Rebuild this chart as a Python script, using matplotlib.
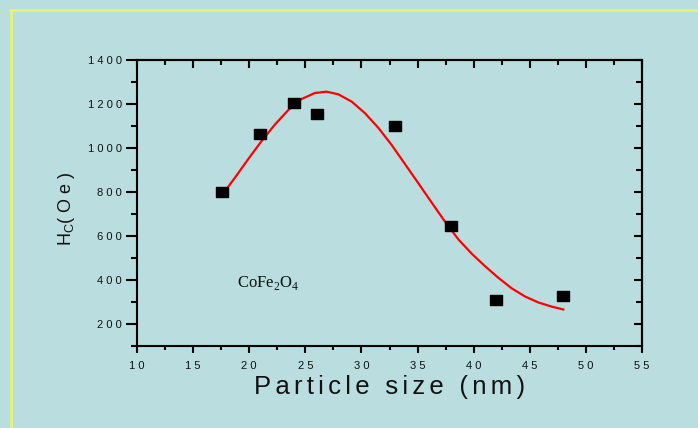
import matplotlib
matplotlib.use("Agg")
import matplotlib.pyplot as plt
from matplotlib.path import Path
from matplotlib.lines import Line2D
from matplotlib.ticker import MultipleLocator, FixedLocator

# Data
size_nm = [17.6, 21.0, 24.0, 26.0, 33.0, 38.0, 42.0, 48.0]
hc_oe = [800, 1065, 1205, 1155, 1100, 645, 308, 327]

fit_x = [17.69, 18.73, 19.92, 21.11, 22.30, 23.49, 24.68, 25.86, 26.90, 27.94,
         29.13, 30.32, 31.50, 32.69, 33.88, 35.07, 36.26, 37.45, 38.63, 39.82,
         41.01, 42.20, 43.39, 44.58, 45.76, 46.95, 47.99]
fit_y = [794, 865, 950, 1032, 1107, 1173, 1223, 1250, 1256, 1244,
         1211, 1158, 1092, 1014, 927, 840, 752, 665, 585, 520,
         463, 410, 362, 325, 298, 279, 266]

x_ticks = [10, 15, 20, 25, 30, 35, 40, 45, 50, 55]
y_ticks = [200, 400, 600, 800, 1000, 1200, 1400]

SANS = ["Liberation Sans", "DejaVu Sans"]

def spaced(s, gap=" "):
    return gap.join(list(s))

bg = "#BADDDF"
fig = plt.figure(figsize=(6.98, 4.28), dpi=100, facecolor=bg)
ax = fig.add_axes([137/698, 1-346/428, (642-137)/698, (346-60)/428])
ax.set_facecolor(bg)

# yellow border (top and left)
fig.add_artist(Line2D([11/698, 1.0], [1-10/428, 1-10/428], color="#EEF55A", lw=2))
fig.add_artist(Line2D([11/698, 11/698], [0, 1-10/428], color="#EEF55A", lw=2))

ax.plot(fit_x, fit_y, color="red", lw=1.6, zorder=2, solid_joinstyle="round")
rect = Path([(-1, -0.75), (1, -0.75), (1, 0.75), (-1, 0.75), (-1, -0.75)],
            [Path.MOVETO, Path.LINETO, Path.LINETO, Path.LINETO, Path.CLOSEPOLY])
ax.plot(size_nm, hc_oe, linestyle="none", marker=rect, markersize=8.8,
        color="black", zorder=3)

ax.set_xlim(10, 55)
ax.set_ylim(100, 1400)
ax.xaxis.set_major_locator(FixedLocator(x_ticks))
ax.xaxis.set_minor_locator(MultipleLocator(2.5))
ax.yaxis.set_major_locator(FixedLocator(y_ticks))
ax.yaxis.set_minor_locator(MultipleLocator(100))

ax.set_xticklabels([spaced(str(t)) for t in x_ticks], fontsize=8, family=SANS,
                   color="#111111")
ax.set_yticklabels([spaced(str(t)) for t in y_ticks], fontsize=8, family=SANS,
                   color="#111111")

for sp in ax.spines.values():
    sp.set_linewidth(1.5)
    sp.set_color("black")

ax.tick_params(axis="x", which="major", direction="out", length=5, width=1.5,
               pad=6, top=False)
ax.tick_params(axis="x", which="minor", direction="out", length=3, width=1.5, top=False)
ax.tick_params(axis="y", which="major", direction="out", length=8, width=1.5,
               pad=3, right=False)
ax.tick_params(axis="y", which="minor", direction="out", length=4, width=1.5, right=False)

# top/right inward ticks via secondary axes
axt = ax.secondary_xaxis("top")
axt.xaxis.set_major_locator(FixedLocator(x_ticks))
axt.xaxis.set_minor_locator(MultipleLocator(2.5))
axt.tick_params(which="major", direction="in", length=6, width=1.5, labeltop=False)
axt.tick_params(which="minor", direction="in", length=3.5, width=1.5)
axt.spines["top"].set_linewidth(1.5)
axr = ax.secondary_yaxis("right")
axr.yaxis.set_major_locator(FixedLocator(y_ticks))
axr.yaxis.set_minor_locator(MultipleLocator(100))
axr.tick_params(which="major", direction="in", length=6, width=1.5, labelright=False)
axr.tick_params(which="minor", direction="in", length=4, width=1.5)
axr.spines["right"].set_linewidth(1.5)

gap = "\u2006"
xlab = (gap + " " + gap).join(spaced(w, gap) for w in "Particle size (nm)".split(" "))
ax.set_xlabel(xlab, fontsize=18.5, family=SANS, labelpad=3, color="#111111")
ax.set_ylabel(r"H$_{\mathregular{C}}$" + "( O e )", fontsize=13,
              family=SANS, color="#111111")
ax.yaxis.set_label_coords(-0.119, 0.479)

ax.text(18.9, 385, r"CoFe$_{\mathregular{2}}$O$_{\mathregular{4}}$", fontsize=12,
        family="Liberation Serif", va="center", ha="left", color="#111111")

fig.savefig("out.png", dpi=100, facecolor=bg)
